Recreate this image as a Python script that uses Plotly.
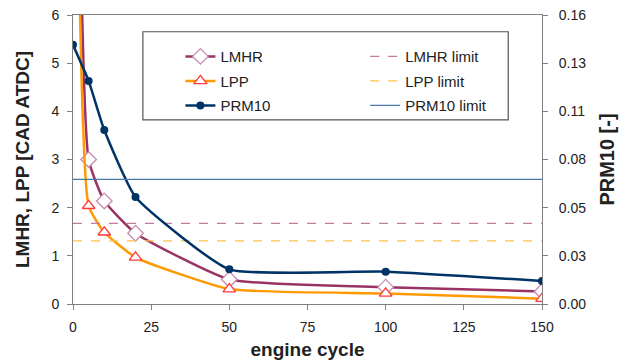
import plotly.graph_objects as go

# ---- data ----
cycles = [0, 5, 10, 20, 50, 100, 150]
lmhr = [20.0, 3.0, 2.14, 1.47, 0.51, 0.35, 0.26]
lpp = [18.0, 2.04, 1.49, 0.97, 0.31, 0.22, 0.11]
prm10 = [0.1435, 0.1235, 0.0963, 0.0592, 0.0192, 0.0179, 0.0128]
lmhr_limit = 1.675
lpp_limit = 1.31
prm10_limit = 0.069

x_ticks = [0, 25, 50, 75, 100, 125, 150]
left_ticks = [0, 1, 2, 3, 4, 5, 6]
right_max = 0.16
right_ticktext = ["0.00", "0.03", "0.05", "0.08", "0.11", "0.13", "0.16"]
right_tickvals = [right_max * i / 6 for i in range(7)]

FONT = "Liberation Sans, Arial, sans-serif"
C_LMHR = "#993366"
C_LPP = "#FF9900"
C_PRM = "#003366"
SMOOTH = 0.45

fig = go.Figure()

fig.add_trace(go.Scatter(
    x=cycles, y=lmhr, name="LMHR", mode="lines+markers",
    line=dict(color=C_LMHR, width=2.5, shape="spline", smoothing=SMOOTH),
    marker=dict(symbol="diamond", size=12, color="white",
                line=dict(color="#c78bb0", width=1.3)),
    legend="legend", legendgroup="a"))
fig.add_trace(go.Scatter(
    x=cycles, y=lpp, name="LPP", mode="lines+markers",
    line=dict(color=C_LPP, width=2.5, shape="spline", smoothing=SMOOTH),
    marker=dict(symbol="triangle-up", size=11, color="white",
                line=dict(color="#ff3b3b", width=1.3)),
    legend="legend", legendgroup="b"))
fig.add_trace(go.Scatter(
    x=cycles, y=prm10, name="PRM10", mode="lines+markers", yaxis="y2",
    line=dict(color=C_PRM, width=2.5, shape="spline", smoothing=SMOOTH),
    marker=dict(symbol="circle", size=8, color=C_PRM),
    legend="legend", legendgroup="c"))

fig.add_trace(go.Scatter(
    x=[x_ticks[0], x_ticks[-1]], y=[lmhr_limit, lmhr_limit], name="LMHR limit",
    mode="lines", line=dict(color="#c77aa0", width=1.3, dash="dash"),
    legend="legend2", legendgroup="d"))
fig.add_trace(go.Scatter(
    x=[x_ticks[0], x_ticks[-1]], y=[lpp_limit, lpp_limit], name="LPP limit",
    mode="lines", line=dict(color="#ffc04d", width=1.3, dash="dash"),
    legend="legend2", legendgroup="e"))
fig.add_trace(go.Scatter(
    x=[x_ticks[0], x_ticks[-1]], y=[prm10_limit, prm10_limit], name="PRM10 limit",
    mode="lines", yaxis="y2", line=dict(color="#4a7aab", width=1.2),
    legend="legend2", legendgroup="f"))

axis_common = dict(showline=True, linecolor="#808080", linewidth=1,
                   ticks="outside", ticklen=5, tickcolor="#808080",
                   showgrid=False, zeroline=False, automargin=False,
                   tickfont=dict(family=FONT, size=14, color="#222"))

fig.update_layout(
    width=621, height=362,
    margin=dict(l=73, r=79, t=15, b=58),
    paper_bgcolor="white", plot_bgcolor="white",
    font=dict(family=FONT, color="#222"),
    xaxis=dict(range=[0, 150], tickvals=x_ticks, mirror=True,
               ticklabelstandoff=5,
               title=dict(text="<b>engine cycle</b>", standoff=8,
                          font=dict(family=FONT, size=19, color="#222")),
               **axis_common),
    yaxis=dict(range=[0, 6], tickvals=left_ticks, ticklabelstandoff=5,
               title=dict(text="<b>LMHR, LPP [CAD ATDC]</b>", standoff=16,
                          font=dict(family=FONT, size=19, color="#222")),
               **axis_common),
    yaxis2=dict(range=[0, right_max], overlaying="y", side="right",
                tickvals=right_tickvals, ticktext=right_ticktext,
                ticklabelstandoff=8,
                title=dict(text="<b>PRM10 [-]</b>", standoff=14,
                           font=dict(family=FONT, size=20, color="#222")),
                **axis_common),
    legend=dict(x=0.229, y=0.913, xanchor="left", yanchor="top",
                bgcolor="rgba(0,0,0,0)", borderwidth=0,
                font=dict(family=FONT, size=15, color="#222"),
                traceorder="grouped", tracegroupgap=2),
    legend2=dict(x=0.623, y=0.913, xanchor="left", yanchor="top",
                 bgcolor="rgba(0,0,0,0)", borderwidth=0,
                 font=dict(family=FONT, size=15, color="#222"),
                 traceorder="grouped", tracegroupgap=2),
    shapes=[dict(type="rect", xref="paper", yref="paper",
                 x0=0.149, x1=0.928, y0=0.637, y1=0.942,
                 line=dict(color="#555555", width=1.2),
                 fillcolor="rgba(0,0,0,0)", layer="above")],
)

fig.write_html("out.html")
